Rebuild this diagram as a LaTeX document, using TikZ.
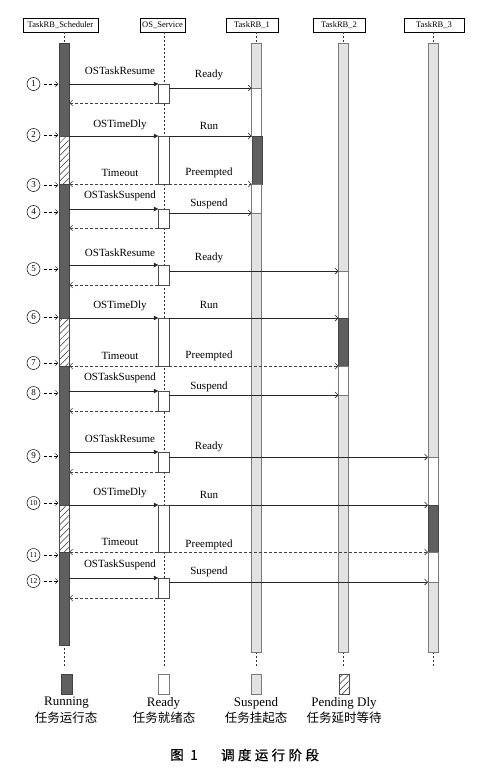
\documentclass[tikz,border=0pt]{standalone}
\usepackage{fontspec}
\setmainfont{Liberation Serif}
\newfontfamily\cjk{Noto Sans CJK SC}
\newfontfamily\cjkcap[FakeBold=0.8,LetterSpace=25]{Noto Sans CJK SC}
\usetikzlibrary{arrows.meta,patterns.meta}
\definecolor{rundark}{HTML}{5F5F5F}
\definecolor{suspgray}{HTML}{E2E2E2}
\definecolor{edgegray}{HTML}{7A7A7A}
\tikzset{
  hdr/.style={draw=black, line width=0.5pt, minimum height=14pt, inner sep=0pt, fill=white,
    font=\fontsize{8.5}{9}\selectfont},
  life/.style={dash pattern=on 2pt off 2pt, line width=0.5pt, black!80},
  runbar/.style={fill=rundark, draw=rundark!70!black, line width=0.4pt},
  suspbar/.style={fill=suspgray, draw=edgegray, line width=0.5pt},
  readybar/.style={fill=white, draw=edgegray, line width=0.5pt},
  dlybar/.style={preaction={fill=white}, pattern={Lines[angle=45,distance=4.5pt,line width=0.5pt]},
    pattern color=black!80, draw=black!70, line width=0.5pt},
  actbox/.style={draw=black!70, fill=white, line width=0.5pt, minimum width=11pt, inner sep=0pt, outer sep=0pt},
  call/.style={line width=0.6pt, black!85, -{Triangle[length=4.5pt,width=4.5pt]}},
  resp/.style={line width=0.6pt, black!85, -{Straight Barb[length=3pt,width=6pt]}},
  ret/.style={line width=0.6pt, black!75, dash pattern=on 3pt off 2pt, -{Straight Barb[length=3pt,width=6pt]}},
  lbl/.style={font=\fontsize{11}{12}\selectfont, inner sep=0pt},
  circnum/.style={draw=black, line width=0.5pt, circle, minimum size=13pt, inner sep=0pt, font=\fontsize{9}{9}\selectfont},
  circnumb/.style={circnum, font=\fontsize{7.5}{8}\selectfont},
  ind/.style={line width=0.5pt, black, dash pattern=on 3pt off 2pt, -{Straight Barb[length=2.5pt,width=5pt]}},
  legtxt/.style={font=\fontsize{13}{14}\selectfont, inner sep=0pt},
  legcjk/.style={font=\cjk\fontsize{12.5}{14}\selectfont, inner sep=0pt},
}
\newcommand\seg[4]{\draw[#4] ({#1-5},#2) rectangle ({#1+5},#3);}
\newcommand\evshort[9]{%
  \node[actbox, minimum height={#3-#2}] (b#1) at (163.8,{(#2+#3)/2}) {};
  \coordinate (s#1) at (69.3,#2);
  \coordinate (r#1) at (69.3,#3);
  \coordinate (t#1) at (#5,#4);
  \draw[call] (s#1) -- (b#1.west |- s#1);
  \draw[ret] (b#1.south west) -- (r#1);
  \draw[resp] (b#1.east |- t#1) -- (t#1);
  \node[lbl] at (120,#8) {#6};
  \node[lbl] at (209,#9) {#7};
}
\newcommand\evlong[8]{%
  \node[actbox, minimum height={#3-#2}] (b#1) at (163.8,{(#2+#3)/2}) {};
  \coordinate (s#1) at (69.3,#2);
  \coordinate (r#1) at (69.3,#3);
  \coordinate (t#1) at (#4,#2);
  \coordinate (p#1) at (#4,#3);
  \draw[call] (s#1) -- (b#1.north west);
  \draw[resp] (b#1.north east) -- (t#1);
  \draw[ret] (b#1.south west) -- (r#1);
  \draw[ret] (b#1.south east) -- (p#1);
  \node[lbl] at (120,#5) {OSTimeDly};
  \node[lbl] at (209,#6) {Run};
  \node[lbl] at (120,#7) {Timeout};
  \node[lbl] at (209,#8) {Preempted};
}
\begin{document}
\begin{tikzpicture}[x=1pt,y=-1pt]
\useasboundingbox (0,0) rectangle (481,769);
\fill[white] (0,0) rectangle (481,769);

% headers
\node[hdr, minimum width=75pt] (hS) at (60.5,25) {TaskRB\_Scheduler};
\node[hdr, minimum width=45pt] (hO) at (162.5,25) {OS\_Service};
\node[hdr, minimum width=52pt] (h1) at (252,25) {TaskRB\_1};
\node[hdr, minimum width=52pt] (h2) at (339,25) {TaskRB\_2};
\node[hdr, minimum width=60pt] (h3) at (434,25) {TaskRB\_3};
\draw[line width=1.4pt] ([xshift=0.4pt]h3.north east) -- ([xshift=0.4pt]h3.south east);

% lifelines
\coordinate (lS) at (64.3,667);
\coordinate (lO) at (163.8,667);
\coordinate (l1) at (256.7,667);
\coordinate (l2) at (343.5,667);
\coordinate (l3) at (433,667);
\draw[life] (hS.south -| lS) -- (lS);
\draw[life] (hO.south -| lO) -- (lO);
\draw[life] (h1.south -| l1) -- (l1);
\draw[life] (h2.south -| l2) -- (l2);
\draw[life] (h3.south -| l3) -- (l3);

% scheduler bar
\seg{64.3}{43}{136}{runbar}
\seg{64.3}{136}{184}{dlybar}
\seg{64.3}{184}{318}{runbar}
\seg{64.3}{318}{366}{dlybar}
\seg{64.3}{366}{505}{runbar}
\seg{64.3}{505}{552}{dlybar}
\seg{64.3}{552}{645}{runbar}
% TaskRB_1
\seg{256.7}{43}{88}{suspbar}
\seg{256.7}{88}{136}{readybar}
\seg{256.7}{136}{184}{runbar}
\seg{256.7}{184}{213}{readybar}
\seg{256.7}{213}{652}{suspbar}
% TaskRB_2
\seg{343.5}{43}{271}{suspbar}
\seg{343.5}{271}{318}{readybar}
\seg{343.5}{318}{366}{runbar}
\seg{343.5}{366}{395}{readybar}
\seg{343.5}{395}{652}{suspbar}
% TaskRB_3
\seg{433}{43}{457}{suspbar}
\seg{433}{457}{505}{readybar}
\seg{433}{505}{552}{runbar}
\seg{433}{552}{582}{readybar}
\seg{433}{582}{652}{suspbar}

% events
\evshort{1}{84}{103}{88}{251.7}{OSTaskResume}{Ready}{71}{75}
\evlong{2}{136}{184}{251.7}{125}{126}{173}{173}
\evshort{4}{209}{228}{213}{251.7}{OSTaskSuspend}{Suspend}{196}{204}
\evshort{5}{265}{285}{271}{338.5}{OSTaskResume}{Ready}{253}{258}
\evlong{6}{318}{366}{338.5}{306}{305}{356}{356}
\evshort{8}{391}{411}{395}{338.5}{OSTaskSuspend}{Suspend}{378}{387}
\evshort{9}{452}{472}{457}{428}{OSTaskResume}{Ready}{439}{447}
\evlong{10}{505}{552}{428}{493}{495}{542}{545}
\evshort{12}{578}{598}{582}{428}{OSTaskSuspend}{Suspend}{565}{572}

% step markers
\foreach \n/\yy/\st in {1/84/circnum,2/135/circnum,3/185/circnum,4/212/circnum,5/269/circnum,6/317/circnum,7/363/circnum,8/393/circnum,9/456/circnum,10/503/circnumb,11/555/circnumb,12/581/circnumb}{
  \node[\st] (c\n) at (33.5,\yy) {\n};
  \draw[ind] ([xshift=4pt]c\n.east) -- ([xshift=18pt]c\n.east);
}

% legend
\node[runbar, minimum width=11pt, minimum height=20pt, inner sep=0pt] (gR) at (66.5,684) {};
\node[readybar, minimum width=11pt, minimum height=20pt, inner sep=0pt] (gY) at (163.5,684) {};
\node[suspbar, minimum width=10pt, minimum height=20pt, inner sep=0pt] (gS) at (256,684) {};
\node[dlybar, minimum width=10pt, minimum height=20pt, inner sep=0pt] (gD) at (344,684) {};
\node[legtxt] (tR) at (66.5,703) {Running};
\node[legcjk] (cR) at (66,718) {任务运行态};
\node[legtxt] (tY) at (163.5,703) {Ready};
\node[legcjk] (cY) at (164,718) {任务就绪态};
\node[legtxt] (tS) at (256,703) {Suspend};
\node[legcjk] (cS) at (256,718) {任务挂起态};
\node[legtxt] (tD) at (344,703) {Pending Dly};
\node[legcjk] (cD) at (344,718) {任务延时等待};

% caption
\node[font=\cjkcap\fontsize{13.5}{14}\selectfont, inner sep=0pt] (fig) at (184,755) {图 1};
\node[font=\cjkcap\fontsize{13.5}{14}\selectfont, inner sep=0pt] (cap) at (270,755) {调度运行阶段};
\end{tikzpicture}
\end{document}
